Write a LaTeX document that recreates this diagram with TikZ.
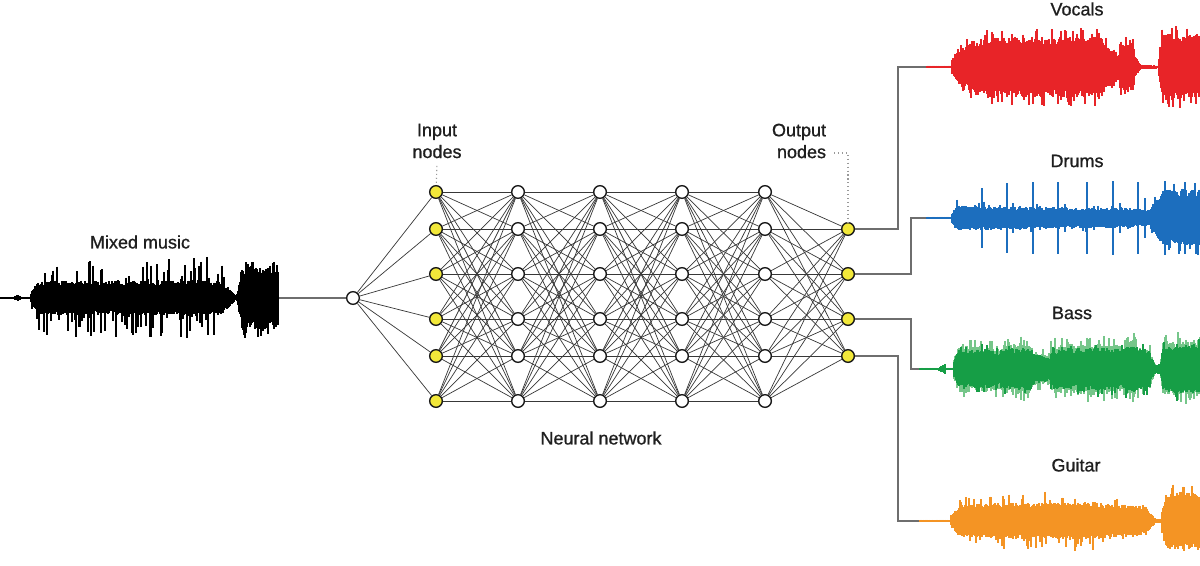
\documentclass[tikz,border=0pt]{standalone}
\usepackage{fontspec}
\setmainfont{Liberation Sans}[FakeBold=0.9]
\usetikzlibrary{positioning}
\definecolor{nodeyellow}{RGB}{242,232,58}
\definecolor{vocalred}{RGB}{232,36,40}
\definecolor{drumblue}{RGB}{28,110,190}
\definecolor{bassgreen}{RGB}{22,158,70}
\definecolor{basslight}{RGB}{118,198,138}
\definecolor{guitarorange}{RGB}{244,148,36}
\definecolor{wiregray}{RGB}{110,110,110}
\tikzset{x=0.025cm, y=-0.025cm,
	every node/.style={
		font=\fontsize{12.8}{15.5}\selectfont,
		text=black!88
	},
	neuron/.style={
		circle,
		draw=black!90,
		line width=1pt,
		fill=white,
		minimum size=9pt,
		inner sep=0pt
	},
	inneuron/.style={neuron, fill=nodeyellow},
	link/.style={draw=black!78, line width=0.5pt},
	wire/.style={draw=wiregray, line width=0.8pt},
	pointer/.style={draw=black!40, dotted, line width=0.8pt}
}
% one waveform: centre line, colour, segments xa/xb/amp a/amp b/spike chance/spike size
\newcommand{\soundwave}[3]{%
	\foreach \wxa/\wxb/\wsa/\wsb/\wpr/\wsf in {#3} {
		\foreach \x in {\wxa,...,\wxb} {
			\pgfmathsetmacro{\wamp}{\wsa+(\wsb-\wsa)*(\x-\wxa)/max(\wxb-\wxa,1)}
			\pgfmathsetmacro{\wup}{(rnd<\wpr) ? \wamp*(1+\wsf*rnd) : \wamp*(0.72+0.28*rnd)}
			\pgfmathsetmacro{\wdn}{(rnd<\wpr) ? \wamp*(1+\wsf*rnd) : \wamp*(0.72+0.28*rnd)}
			\draw[#2, line width=1pt] (\x,{#1-\wup}) -- (\x,{#1+\wdn});
		}
	}
}

\begin{document}
\begin{tikzpicture}
	\useasboundingbox[fill=white] (0,0) rectangle (1200,565);
	\pgfmathsetseed{11}

	% mixed music
	\soundwave{298}{black}{0/12/0.7/0.7/0/0, 13/17/1/3/0/0, 18/22/3/1/0/0, 23/30/0.8/1.5/0/0,
		31/38/5/17/0.1/0.8, 39/222/17/18/0.25/1.3, 223/236/16/2/0.1/1,
		237/242/3/30/0.2/0.4, 243/278/32/31/0.25/0.25}
	\coordinate (mixout) at (279,298);
	\node (mixlabel) at (140,242) {Mixed music};
	\node[neuron] (src) at (353,298) {};
	\draw[wire] (mixout) -- (src);

	% network
	\foreach \i/\y in {1/192,2/229,3/274,4/319,5/356,6/401}
		\node[inneuron] (n0-\i) at (436,\y) {};
	\foreach \l/\x in {1/518,2/600,3/682,4/765}
		\foreach \i/\y in {1/192,2/229,3/274,4/319,5/356,6/401}
			\node[neuron] (n\l-\i) at (\x,\y) {};
	\foreach \i/\y in {1/229,2/274,3/319,4/356}
		\node[inneuron] (out-\i) at (848,\y) {};

	\foreach \i in {1,...,6}
		\draw[link] (src) -- (n0-\i);
	\foreach \l [evaluate=\l as \m using int(\l+1)] in {0,...,3}
		\foreach \i in {1,...,6}
			\foreach \j in {1,...,6}
				\draw[link] (n\l-\i) -- (n\m-\j);
	\foreach \i in {1,...,6}
		\foreach \j in {1,...,4}
			\draw[link] (n4-\i) -- (out-\j);

	\node[align=center] (inlabel) at (437,141) {Input\\nodes};
	\draw[pointer, shorten <=2pt] (inlabel.south) -- (n0-1);
	\node[align=right, anchor=east] (outlabel) at (831,141) {Output\\nodes};
	\coordinate (outtip) at (834,153);
	\draw[pointer] (outtip) -| (out-1);
	\node (netlabel) at (601,438) {Neural network};

	% separated parts
	\coordinate (vocalin) at (927,67);
	\coordinate (drumin) at (927,218);
	\coordinate (bassin) at (920,369);
	\coordinate (guitarin) at (920,521);
	\draw[wire] (out-1) -- ++(50,0) |- (vocalin);
	\draw[wire] (out-2) -- ++(63,0) |- (drumin);
	\draw[wire] (out-3) -- ++(63,0) |- (bassin);
	\draw[wire] (out-4) -- ++(50,0) |- (guitarin);

	\node (vocallabel) at (1077,9) {Vocals};
	\node (drumlabel) at (1077,161) {Drums};
	\node (basslabel) at (1072,313) {Bass};
	\node (guitarlabel) at (1076,465) {Guitar};

	\soundwave{67}{vocalred}{927/951/1.5/1.5/0/0, 952/958/8/18/0.1/0.4, 959/980/19/29/0.2/0.35,
		981/1100/29/31/0.2/0.3, 1101/1117/28/15/0.2/0.3, 1118/1120/10/24/0/0,
		1121/1134/26/24/0.15/0.2, 1135/1140/12/3/0/0, 1141/1158/2.5/1.5/0/0,
		1159/1162/10/32/0.1/0.2, 1163/1200/34/34/0.2/0.2}

	\soundwave{218}{drumblue}{927/951/1.2/1.2/0/0, 952/956/5/12/0/0, 957/1030/13/11/0.05/0.4,
		1031/1130/11/10/0.05/0.4, 1131/1150/10/8/0/0, 1151/1160/12/24/0.1/0.3,
		1161/1200/28/30/0.15/0.3}
	\foreach \s/\h in {982/30, 1007/35, 1013/15, 1020/12, 1033/36, 1040/12, 1058/36, 1065/14,
		1087/36, 1094/12, 1113/37, 1120/15, 1138/36, 1145/20, 1165/37, 1185/36}
		\draw[drumblue, line width=1.4pt] (\s,{218-\h}) -- (\s,{218+\h});

	\soundwave{369}{basslight}{954/958/10/22/0/0, 959/1000/24/22/0.15/0.3, 1001/1030/24/26/0.15/0.3,
		1031/1050/18/16/0.1/0.3, 1051/1100/24/26/0.15/0.3, 1101/1125/26/24/0.15/0.3,
		1126/1135/28/32/0.3/0.15, 1136/1150/26/20/0.1/0.2, 1151/1156/15/4/0/0,
		1161/1163/10/28/0/0, 1164/1200/28/30/0.15/0.3}
	\soundwave{369}{bassgreen}{920/938/1.2/1.2/0/0, 939/945/2/5/0/0, 946/953/1.5/1.5/0/0,
		954/958/8/18/0/0, 959/985/18/20/0.1/0.3, 986/1000/20/16/0.1/0.3,
		1001/1030/20/22/0.1/0.3, 1031/1050/16/12/0.1/0.3, 1051/1100/20/22/0.1/0.3,
		1101/1125/22/20/0.1/0.3, 1126/1150/24/20/0.1/0.3, 1151/1156/13/3/0/0,
		1157/1160/5/5/0/0, 1161/1163/8/24/0/0, 1164/1200/24/26/0.1/0.3}

	\soundwave{521}{guitarorange}{920/950/1.2/1.2/0/0, 951/958/6/14/0/0, 959/1000/16/18/0.15/0.5,
		1001/1100/18/19/0.15/0.6, 1101/1145/18/15/0.1/0.4, 1146/1156/14/2/0/0,
		1157/1161/2/2/0/0, 1162/1166/12/28/0/0, 1167/1200/28/29/0.15/0.3}
\end{tikzpicture}
\end{document}
